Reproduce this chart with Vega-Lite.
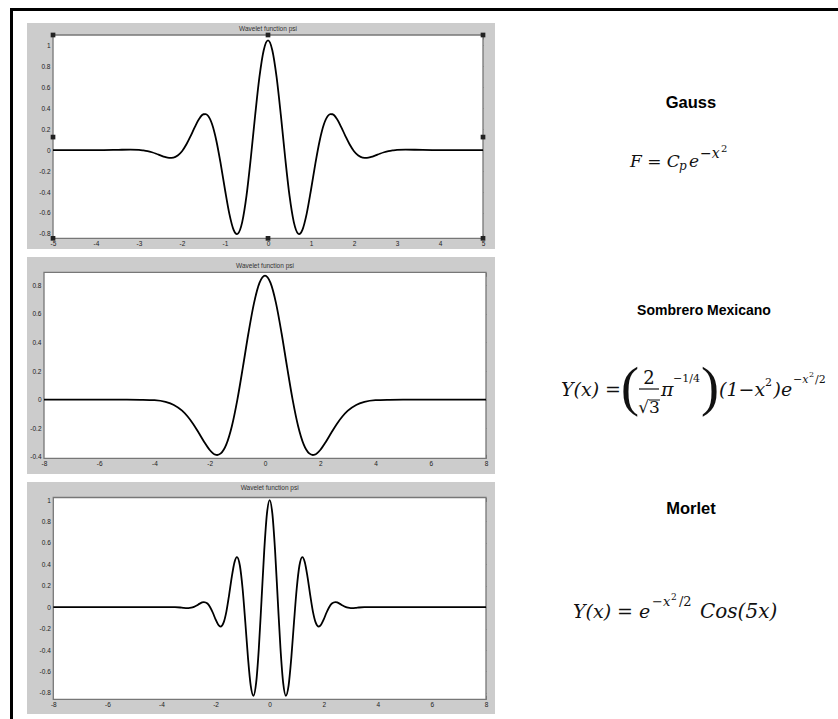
{
"$schema": "https://vega.github.io/schema/vega-lite/v6.json",
"padding": {"left": 10, "top": 8, "right": 0, "bottom": 0},
"background": "white",
"config": {"view": {"stroke": null}, "text": {"color": "#111"}},
"datasets": {
"gauss": [
{"x":-5,"psi":0},{"x":-4.5,"psi":0},{"x":-4,"psi":0},{"x":-3.6,"psi":0.002},{"x":-3.4,"psi":0.004},{"x":-3.2,"psi":0.005},{"x":-3,"psi":0.003},{"x":-2.9,"psi":-0.002},{"x":-2.8,"psi":-0.009},{"x":-2.7,"psi":-0.02},{"x":-2.6,"psi":-0.034},{"x":-2.5,"psi":-0.05},{"x":-2.4,"psi":-0.065},{"x":-2.3,"psi":-0.074},{"x":-2.2,"psi":-0.071},{"x":-2.1,"psi":-0.051},{"x":-2,"psi":-0.01},{"x":-1.9,"psi":0.054},{"x":-1.8,"psi":0.135},{"x":-1.7,"psi":0.223},{"x":-1.6,"psi":0.3},{"x":-1.5,"psi":0.343},{"x":-1.45,"psi":0.345},{"x":-1.4,"psi":0.331},{"x":-1.3,"psi":0.247},{"x":-1.2,"psi":0.088},{"x":-1.1,"psi":-0.131},{"x":-1,"psi":-0.378},{"x":-0.9,"psi":-0.606},{"x":-0.8,"psi":-0.761},{"x":-0.75,"psi":-0.796},{"x":-0.725,"psi":-0.801},{"x":-0.7,"psi":-0.797},{"x":-0.6,"psi":-0.687},{"x":-0.5,"psi":-0.435},{"x":-0.4,"psi":-0.075},{"x":-0.3,"psi":0.329},{"x":-0.2,"psi":0.697},{"x":-0.1,"psi":0.955},{"x":0,"psi":1.048},
{"x":0.1,"psi":0.955},{"x":0.2,"psi":0.697},{"x":0.3,"psi":0.329},{"x":0.4,"psi":-0.075},{"x":0.5,"psi":-0.435},{"x":0.6,"psi":-0.687},{"x":0.7,"psi":-0.797},{"x":0.725,"psi":-0.801},{"x":0.75,"psi":-0.796},{"x":0.8,"psi":-0.761},{"x":0.9,"psi":-0.606},{"x":1,"psi":-0.378},{"x":1.1,"psi":-0.131},{"x":1.2,"psi":0.088},{"x":1.3,"psi":0.247},{"x":1.4,"psi":0.331},{"x":1.45,"psi":0.345},{"x":1.5,"psi":0.343},{"x":1.6,"psi":0.3},{"x":1.7,"psi":0.223},{"x":1.8,"psi":0.135},{"x":1.9,"psi":0.054},{"x":2,"psi":-0.01},{"x":2.1,"psi":-0.051},{"x":2.2,"psi":-0.071},{"x":2.3,"psi":-0.074},{"x":2.4,"psi":-0.065},{"x":2.5,"psi":-0.05},{"x":2.6,"psi":-0.034},{"x":2.7,"psi":-0.02},{"x":2.8,"psi":-0.009},{"x":2.9,"psi":-0.002},{"x":3,"psi":0.003},{"x":3.2,"psi":0.005},{"x":3.4,"psi":0.004},{"x":3.6,"psi":0.002},{"x":4,"psi":0},{"x":4.5,"psi":0},{"x":5,"psi":0}
],
"handles": [
{"x":-5,"y":1.1},{"x":0,"y":1.1},{"x":5,"y":1.1},{"x":-5,"y":0.125},{"x":5,"y":0.125},{"x":-5,"y":-0.842},{"x":0,"y":-0.842},{"x":5,"y":-0.842}
],
"mexh": [
{"x":-8,"psi":0},{"x":-6,"psi":0},{"x":-5,"psi":0},{"x":-4.5,"psi":-0.001},{"x":-4,"psi":-0.004},{"x":-3.6,"psi":-0.016},{"x":-3.3,"psi":-0.037},{"x":-3,"psi":-0.077},{"x":-2.8,"psi":-0.118},{"x":-2.6,"psi":-0.17},{"x":-2.4,"psi":-0.232},{"x":-2.2,"psi":-0.296},{"x":-2,"psi":-0.352},{"x":-1.8,"psi":-0.385},{"x":-1.732,"psi":-0.387},{"x":-1.6,"psi":-0.376},{"x":-1.4,"psi":-0.313},{"x":-1.2,"psi":-0.186},{"x":-1,"psi":0},{"x":-0.8,"psi":0.227},{"x":-0.6,"psi":0.464},{"x":-0.4,"psi":0.673},{"x":-0.2,"psi":0.816},{"x":0,"psi":0.867},
{"x":0.2,"psi":0.816},{"x":0.4,"psi":0.673},{"x":0.6,"psi":0.464},{"x":0.8,"psi":0.227},{"x":1,"psi":0},{"x":1.2,"psi":-0.186},{"x":1.4,"psi":-0.313},{"x":1.6,"psi":-0.376},{"x":1.732,"psi":-0.387},{"x":1.8,"psi":-0.385},{"x":2,"psi":-0.352},{"x":2.2,"psi":-0.296},{"x":2.4,"psi":-0.232},{"x":2.6,"psi":-0.17},{"x":2.8,"psi":-0.118},{"x":3,"psi":-0.077},{"x":3.3,"psi":-0.037},{"x":3.6,"psi":-0.016},{"x":4,"psi":-0.004},{"x":4.5,"psi":-0.001},{"x":5,"psi":0},{"x":6,"psi":0},{"x":8,"psi":0}
],
"morl": [
{"x":-8,"psi":0},{"x":-6,"psi":0},{"x":-5,"psi":0},{"x":-4,"psi":0},{"x":-3.5,"psi":0},{"x":-3.3,"psi":-0.003},{"x":-3.2,"psi":-0.006},{"x":-3.1,"psi":-0.008},{"x":-3,"psi":-0.008},{"x":-2.9,"psi":-0.005},{"x":-2.8,"psi":0.003},{"x":-2.7,"psi":0.015},{"x":-2.6,"psi":0.031},{"x":-2.5,"psi":0.044},{"x":-2.43,"psi":0.048},{"x":-2.3,"psi":0.034},{"x":-2.2,"psi":0},{"x":-2.1,"psi":-0.052},{"x":-2,"psi":-0.114},{"x":-1.9,"psi":-0.164},{"x":-1.815,"psi":-0.181},{"x":-1.7,"psi":-0.142},{"x":-1.6,"psi":-0.041},{"x":-1.5,"psi":0.113},{"x":-1.4,"psi":0.283},{"x":-1.3,"psi":0.42},{"x":-1.21,"psi":0.468},{"x":-1.1,"psi":0.387},{"x":-1,"psi":0.172},{"x":-0.9,"psi":-0.141},{"x":-0.8,"psi":-0.475},{"x":-0.7,"psi":-0.733},{"x":-0.6,"psi":-0.827},{"x":-0.5,"psi":-0.707},{"x":-0.4,"psi":-0.384},{"x":-0.3,"psi":0.068},{"x":-0.2,"psi":0.53},{"x":-0.1,"psi":0.873},{"x":0,"psi":1},
{"x":0.1,"psi":0.873},{"x":0.2,"psi":0.53},{"x":0.3,"psi":0.068},{"x":0.4,"psi":-0.384},{"x":0.5,"psi":-0.707},{"x":0.6,"psi":-0.827},{"x":0.7,"psi":-0.733},{"x":0.8,"psi":-0.475},{"x":0.9,"psi":-0.141},{"x":1,"psi":0.172},{"x":1.1,"psi":0.387},{"x":1.21,"psi":0.468},{"x":1.3,"psi":0.42},{"x":1.4,"psi":0.283},{"x":1.5,"psi":0.113},{"x":1.6,"psi":-0.041},{"x":1.7,"psi":-0.142},{"x":1.815,"psi":-0.181},{"x":1.9,"psi":-0.164},{"x":2,"psi":-0.114},{"x":2.1,"psi":-0.052},{"x":2.2,"psi":0},{"x":2.3,"psi":0.034},{"x":2.43,"psi":0.048},{"x":2.5,"psi":0.044},{"x":2.6,"psi":0.031},{"x":2.7,"psi":0.015},{"x":2.8,"psi":0.003},{"x":2.9,"psi":-0.005},{"x":3,"psi":-0.008},{"x":3.1,"psi":-0.008},{"x":3.2,"psi":-0.006},{"x":3.3,"psi":-0.003},{"x":3.5,"psi":0},{"x":4,"psi":0},{"x":5,"psi":0},{"x":6,"psi":0},{"x":8,"psi":0}
]
},
"spacing": 0,
"vconcat": [
{"width": 828, "height": 3, "data": {"values": [{}]}, "mark": {"type": "rect", "color": "black"}},
{"spacing": 14, "hconcat": [
 {"width": 3, "height": 708, "data": {"values": [{}]}, "mark": {"type": "rect", "color": "black"}},
 {"spacing": 8, "vconcat": [
  {"width": 1, "height": 4, "data": {"values": [{}]}, "mark": {"type": "rect", "opacity": 0}},
  {"spacing": 0, "hconcat": [
   {"width": 468, "height": 226, "view": {"fill": "#cccccc", "stroke": null},
    "resolve": {"axis": {"x": "independent", "y": "independent"}},
    "layer": [
     {"data": {"values": [{}]}, "mark": {"type": "rect", "fill": "white", "stroke": "#777", "strokeWidth": 1.3},
      "encoding": {
       "x": {"datum": -5, "type": "quantitative", "scale": {"domain": [-5.605, 5.279], "nice": false, "zero": false},
        "axis": {"orient": "bottom", "values": [-5,-4,-3,-2,-1,0,1,2,3,4,5], "offset": -10.7, "domain": false, "grid": false, "tickSize": -4, "tickColor": "#777", "labelPadding": 6, "labelFontSize": 6.5, "labelColor": "#222", "labelFont": "Liberation Sans", "labelExpr": "toString(datum.value)", "labelOverlap": false, "labelFlush": false, "title": null}},
       "x2": {"datum": 5},
       "y": {"datum": -0.842, "type": "quantitative", "scale": {"domain": [-0.944, 1.2146], "nice": false, "zero": false},
        "axis": {"orient": "left", "values": [-0.8,-0.6,-0.4,-0.2,0,0.2,0.4,0.6,0.8,1], "offset": -26, "domain": false, "grid": false, "tickSize": -4, "tickColor": "#777", "labelPadding": 7, "labelFontSize": 6.5, "labelColor": "#222", "labelFont": "Liberation Sans", "labelExpr": "toString(datum.value)", "labelOverlap": false, "labelFlush": false, "title": null}},
       "y2": {"datum": 1.1}
      }},
     {"data": {"name": "gauss"}, "mark": {"type": "line", "color": "black", "strokeWidth": 1.8, "interpolate": "monotone"},
      "encoding": {
       "x": {"field": "x", "type": "quantitative", "scale": {"domain": [-5.605, 5.279], "nice": false, "zero": false},
        "axis": {"orient": "top", "values": [-5,-4,-3,-2,-1,0,1,2,3,4,5], "offset": -12, "domain": false, "grid": false, "labels": false, "tickSize": -4, "tickColor": "#777", "title": null}},
       "y": {"field": "psi", "type": "quantitative", "scale": {"domain": [-0.944, 1.2146], "nice": false, "zero": false},
        "axis": {"orient": "right", "values": [-0.8,-0.6,-0.4,-0.2,0,0.2,0.4,0.6,0.8,1], "offset": -12, "domain": false, "grid": false, "labels": false, "tickSize": -4, "tickColor": "#777", "title": null}}
      }},
     {"data": {"name": "handles"}, "mark": {"type": "point", "shape": "square", "size": 22, "filled": true, "color": "#222", "opacity": 1},
      "encoding": {"x": {"field": "x", "type": "quantitative", "axis": null}, "y": {"field": "y", "type": "quantitative", "axis": null}}},
     {"data": {"values": [{}]}, "mark": {"type": "text", "text": "Wavelet function psi", "font": "Liberation Sans", "fontSize": 6.5, "color": "#333", "baseline": "middle"},
      "encoding": {"x": {"datum": 0, "type": "quantitative", "axis": null}, "y": {"datum": 1.157, "type": "quantitative", "axis": null}}}
    ]},
   {"width": 343, "height": 226, "data": {"values": [{}]},
    "layer": [
     {"mark": {"type": "text", "text": "Gauss", "font": "Liberation Sans", "fontWeight": "bold", "fontSize": 16.5, "align": "center", "baseline": "alphabetic", "color": "#000"},
      "encoding": {"x": {"datum": 57.14, "type": "quantitative", "scale": {"domain": [0, 100]}, "axis": null}, "y": {"datum": 37.61, "type": "quantitative", "scale": {"domain": [0, 100], "reverse": true}, "axis": null}}},
     {"mark": {"type": "text", "text": "F = C", "font": "DejaVu Serif", "fontStyle": "italic", "fontSize": 17, "align": "left", "baseline": "alphabetic"},
      "encoding": {"x": {"datum": 39.36, "type": "quantitative", "scale": {"domain": [0, 100]}, "axis": null}, "y": {"datum": 63.72, "type": "quantitative", "scale": {"domain": [0, 100], "reverse": true}, "axis": null}}},
     {"mark": {"type": "text", "text": "p", "font": "DejaVu Serif", "fontStyle": "italic", "fontSize": 12, "align": "left", "baseline": "alphabetic"},
      "encoding": {"x": {"datum": 53.64, "type": "quantitative", "scale": {"domain": [0, 100]}, "axis": null}, "y": {"datum": 65.04, "type": "quantitative", "scale": {"domain": [0, 100], "reverse": true}, "axis": null}}},
     {"mark": {"type": "text", "text": "e", "font": "DejaVu Serif", "fontStyle": "italic", "fontSize": 17, "align": "left", "baseline": "alphabetic"},
      "encoding": {"x": {"datum": 56.56, "type": "quantitative", "scale": {"domain": [0, 100]}, "axis": null}, "y": {"datum": 63.72, "type": "quantitative", "scale": {"domain": [0, 100], "reverse": true}, "axis": null}}},
     {"mark": {"type": "text", "text": "−x", "font": "DejaVu Serif", "fontStyle": "italic", "fontSize": 14, "align": "left", "baseline": "alphabetic"},
      "encoding": {"x": {"datum": 59.77, "type": "quantitative", "scale": {"domain": [0, 100]}, "axis": null}, "y": {"datum": 59.73, "type": "quantitative", "scale": {"domain": [0, 100], "reverse": true}, "axis": null}}},
     {"mark": {"type": "text", "text": "2", "font": "DejaVu Serif", "fontSize": 10, "align": "left", "baseline": "alphabetic"},
      "encoding": {"x": {"datum": 65.89, "type": "quantitative", "scale": {"domain": [0, 100]}, "axis": null}, "y": {"datum": 57.08, "type": "quantitative", "scale": {"domain": [0, 100], "reverse": true}, "axis": null}}}
    ]}
  ]},
  {"spacing": 0, "hconcat": [
   {"width": 468, "height": 217, "view": {"fill": "#cccccc", "stroke": null},
    "resolve": {"axis": {"x": "independent", "y": "independent"}},
    "layer": [
     {"data": {"values": [{}]}, "mark": {"type": "rect", "fill": "white", "stroke": "#777", "strokeWidth": 1.3},
      "encoding": {
       "x": {"datum": -8, "type": "quantitative", "scale": {"domain": [-8.6154, 8.3258], "nice": false, "zero": false},
        "axis": {"orient": "bottom", "values": [-8,-6,-4,-2,0,2,4,6,8], "offset": -15.7, "domain": false, "grid": false, "tickSize": -4, "tickColor": "#777", "labelPadding": 6, "labelFontSize": 6.5, "labelColor": "#222", "labelFont": "Liberation Sans", "labelExpr": "toString(datum.value)", "labelOverlap": false, "labelFlush": false, "title": null}},
       "x2": {"datum": 8},
       "y": {"datum": -0.41, "type": "quantitative", "scale": {"domain": [-0.5197, 0.9969], "nice": false, "zero": false},
        "axis": {"orient": "left", "values": [-0.4,-0.2,0,0.2,0.4,0.6,0.8], "offset": -17, "domain": false, "grid": false, "tickSize": -4, "tickColor": "#777", "labelPadding": 7, "labelFontSize": 6.5, "labelColor": "#222", "labelFont": "Liberation Sans", "labelExpr": "toString(datum.value)", "labelOverlap": false, "labelFlush": false, "title": null}},
       "y2": {"datum": 0.89}
      }},
     {"data": {"name": "mexh"}, "mark": {"type": "line", "color": "black", "strokeWidth": 1.8, "interpolate": "monotone"},
      "encoding": {
       "x": {"field": "x", "type": "quantitative", "scale": {"domain": [-8.6154, 8.3258], "nice": false, "zero": false},
        "axis": {"orient": "top", "values": [-8,-6,-4,-2,0,2,4,6,8], "offset": -15.3, "domain": false, "grid": false, "labels": false, "tickSize": -4, "tickColor": "#777", "title": null}},
       "y": {"field": "psi", "type": "quantitative", "scale": {"domain": [-0.5197, 0.9969], "nice": false, "zero": false},
        "axis": {"orient": "right", "values": [-0.4,-0.2,0,0.2,0.4,0.6,0.8], "offset": -9, "domain": false, "grid": false, "labels": false, "tickSize": -4, "tickColor": "#777", "title": null}}
      }},
     {"data": {"values": [{}]}, "mark": {"type": "text", "text": "Wavelet function psi", "font": "Liberation Sans", "fontSize": 6.5, "color": "#333", "baseline": "middle"},
      "encoding": {"x": {"datum": 0, "type": "quantitative", "axis": null}, "y": {"datum": 0.934, "type": "quantitative", "axis": null}}}
    ]},
   {"width": 343, "height": 217, "data": {"values": [{}]},
    "layer": [
     {"mark": {"type": "text", "text": "Sombrero Mexicano", "font": "Liberation Sans Narrow, Liberation Sans, Arial, sans-serif", "fontWeight": "bold", "fontSize": 14, "align": "center", "baseline": "alphabetic", "color": "#000"},
      "encoding": {"x": {"datum": 60.93, "type": "quantitative", "scale": {"domain": [0, 100]}, "axis": null}, "y": {"datum": 26.73, "type": "quantitative", "scale": {"domain": [0, 100], "reverse": true}, "axis": null}}},
     {"mark": {"type": "text", "text": "Y(x) =", "font": "DejaVu Serif", "fontStyle": "italic", "fontSize": 19, "align": "left", "baseline": "alphabetic"},
      "encoding": {"x": {"datum": 19.24, "type": "quantitative", "scale": {"domain": [0, 100]}, "axis": null}, "y": {"datum": 64.06, "type": "quantitative", "scale": {"domain": [0, 100], "reverse": true}, "axis": null}}},
     {"mark": {"type": "text", "text": "(", "font": "Liberation Serif", "fontSize": 54, "align": "left", "baseline": "alphabetic"},
      "encoding": {"x": {"datum": 36.73, "type": "quantitative", "scale": {"domain": [0, 100]}, "axis": null}, "y": {"datum": 68.2, "type": "quantitative", "scale": {"domain": [0, 100], "reverse": true}, "axis": null}}},
     {"mark": {"type": "text", "text": "2", "font": "DejaVu Serif", "fontSize": 18, "align": "center", "baseline": "alphabetic"},
      "encoding": {"x": {"datum": 44.9, "type": "quantitative", "scale": {"domain": [0, 100]}, "axis": null}, "y": {"datum": 58.53, "type": "quantitative", "scale": {"domain": [0, 100], "reverse": true}, "axis": null}}},
     {"mark": {"type": "rule", "color": "#111", "strokeWidth": 1.2},
      "encoding": {"x": {"datum": 41.98, "type": "quantitative", "scale": {"domain": [0, 100]}, "axis": null}, "x2": {"datum": 47.81}, "y": {"datum": 60.83, "type": "quantitative", "scale": {"domain": [0, 100], "reverse": true}, "axis": null}}},
     {"mark": {"type": "text", "text": "√3", "font": "DejaVu Serif", "fontSize": 17, "align": "center", "baseline": "alphabetic"},
      "encoding": {"x": {"datum": 44.9, "type": "quantitative", "scale": {"domain": [0, 100]}, "axis": null}, "y": {"datum": 71.89, "type": "quantitative", "scale": {"domain": [0, 100], "reverse": true}, "axis": null}}},
     {"mark": {"type": "rule", "color": "#111", "strokeWidth": 1},
      "encoding": {"x": {"datum": 44.9, "type": "quantitative", "scale": {"domain": [0, 100]}, "axis": null}, "x2": {"datum": 48.1}, "y": {"datum": 65.9, "type": "quantitative", "scale": {"domain": [0, 100], "reverse": true}, "axis": null}}},
     {"mark": {"type": "text", "text": "π", "font": "DejaVu Serif", "fontStyle": "italic", "fontSize": 19, "align": "left", "baseline": "alphabetic"},
      "encoding": {"x": {"datum": 48.4, "type": "quantitative", "scale": {"domain": [0, 100]}, "axis": null}, "y": {"datum": 64.06, "type": "quantitative", "scale": {"domain": [0, 100], "reverse": true}, "axis": null}}},
     {"mark": {"type": "text", "text": "−1/4", "font": "DejaVu Serif", "fontSize": 11, "align": "left", "baseline": "alphabetic"},
      "encoding": {"x": {"datum": 51.9, "type": "quantitative", "scale": {"domain": [0, 100]}, "axis": null}, "y": {"datum": 57.6, "type": "quantitative", "scale": {"domain": [0, 100], "reverse": true}, "axis": null}}},
     {"mark": {"type": "text", "text": ")", "font": "Liberation Serif", "fontSize": 54, "align": "left", "baseline": "alphabetic"},
      "encoding": {"x": {"datum": 60.06, "type": "quantitative", "scale": {"domain": [0, 100]}, "axis": null}, "y": {"datum": 68.2, "type": "quantitative", "scale": {"domain": [0, 100], "reverse": true}, "axis": null}}},
     {"mark": {"type": "text", "text": "(1−x", "font": "DejaVu Serif", "fontStyle": "italic", "fontSize": 19, "align": "left", "baseline": "alphabetic"},
      "encoding": {"x": {"datum": 65.31, "type": "quantitative", "scale": {"domain": [0, 100]}, "axis": null}, "y": {"datum": 64.06, "type": "quantitative", "scale": {"domain": [0, 100], "reverse": true}, "axis": null}}},
     {"mark": {"type": "text", "text": "2", "font": "DejaVu Serif", "fontSize": 11, "align": "left", "baseline": "alphabetic"},
      "encoding": {"x": {"datum": 78.72, "type": "quantitative", "scale": {"domain": [0, 100]}, "axis": null}, "y": {"datum": 59.45, "type": "quantitative", "scale": {"domain": [0, 100], "reverse": true}, "axis": null}}},
     {"mark": {"type": "text", "text": ")e", "font": "DejaVu Serif", "fontStyle": "italic", "fontSize": 19, "align": "left", "baseline": "alphabetic"},
      "encoding": {"x": {"datum": 81.2, "type": "quantitative", "scale": {"domain": [0, 100]}, "axis": null}, "y": {"datum": 64.06, "type": "quantitative", "scale": {"domain": [0, 100], "reverse": true}, "axis": null}}},
     {"mark": {"type": "text", "text": "−x", "font": "DejaVu Serif", "fontStyle": "italic", "fontSize": 11, "align": "left", "baseline": "alphabetic"},
      "encoding": {"x": {"datum": 86.88, "type": "quantitative", "scale": {"domain": [0, 100]}, "axis": null}, "y": {"datum": 58.06, "type": "quantitative", "scale": {"domain": [0, 100], "reverse": true}, "axis": null}}},
     {"mark": {"type": "text", "text": "2", "font": "DejaVu Serif", "fontSize": 8, "align": "left", "baseline": "alphabetic"},
      "encoding": {"x": {"datum": 91.55, "type": "quantitative", "scale": {"domain": [0, 100]}, "axis": null}, "y": {"datum": 55.3, "type": "quantitative", "scale": {"domain": [0, 100], "reverse": true}, "axis": null}}},
     {"mark": {"type": "text", "text": "/2", "font": "DejaVu Serif", "fontSize": 11, "align": "left", "baseline": "alphabetic"},
      "encoding": {"x": {"datum": 93.29, "type": "quantitative", "scale": {"domain": [0, 100]}, "axis": null}, "y": {"datum": 58.06, "type": "quantitative", "scale": {"domain": [0, 100], "reverse": true}, "axis": null}}}
    ]}
  ]},
  {"spacing": 0, "hconcat": [
   {"width": 468, "height": 232, "view": {"fill": "#cccccc", "stroke": null},
    "resolve": {"axis": {"x": "independent", "y": "independent"}},
    "layer": [
     {"data": {"values": [{}]}, "mark": {"type": "rect", "fill": "white", "stroke": "#777", "strokeWidth": 1.3},
      "encoding": {
       "x": {"datum": -8, "type": "quantitative", "scale": {"domain": [-8.9726, 8.3328], "nice": false, "zero": false},
        "axis": {"orient": "bottom", "values": [-8,-6,-4,-2,0,2,4,6,8], "offset": -14.7, "domain": false, "grid": false, "tickSize": -4, "tickColor": "#777", "labelPadding": 6, "labelFontSize": 6.5, "labelColor": "#222", "labelFont": "Liberation Sans", "labelExpr": "toString(datum.value)", "labelOverlap": false, "labelFlush": false, "title": null}},
       "x2": {"datum": 8},
       "y": {"datum": -0.86, "type": "quantitative", "scale": {"domain": [-0.9972, 1.1687], "nice": false, "zero": false},
        "axis": {"orient": "left", "values": [-0.8,-0.6,-0.4,-0.2,0,0.2,0.4,0.6,0.8,1], "offset": -26.3, "domain": false, "grid": false, "tickSize": -4, "tickColor": "#777", "labelPadding": 7, "labelFontSize": 6.5, "labelColor": "#222", "labelFont": "Liberation Sans", "labelExpr": "toString(datum.value)", "labelOverlap": false, "labelFlush": false, "title": null}},
       "y2": {"datum": 1.024}
      }},
     {"data": {"name": "morl"}, "mark": {"type": "line", "color": "black", "strokeWidth": 1.8, "interpolate": "monotone"},
      "encoding": {
       "x": {"field": "x", "type": "quantitative", "scale": {"domain": [-8.9726, 8.3328], "nice": false, "zero": false},
        "axis": {"orient": "top", "values": [-8,-6,-4,-2,0,2,4,6,8], "offset": -15.5, "domain": false, "grid": false, "labels": false, "tickSize": -4, "tickColor": "#777", "title": null}},
       "y": {"field": "psi", "type": "quantitative", "scale": {"domain": [-0.9972, 1.1687], "nice": false, "zero": false},
        "axis": {"orient": "right", "values": [-0.8,-0.6,-0.4,-0.2,0,0.2,0.4,0.6,0.8,1], "offset": -9, "domain": false, "grid": false, "labels": false, "tickSize": -4, "tickColor": "#777", "title": null}}
      }},
     {"data": {"values": [{}]}, "mark": {"type": "text", "text": "Wavelet function psi", "font": "Liberation Sans", "fontSize": 6.5, "color": "#333", "baseline": "middle"},
      "encoding": {"x": {"datum": 0, "type": "quantitative", "axis": null}, "y": {"datum": 1.114, "type": "quantitative", "axis": null}}}
    ]},
   {"width": 343, "height": 232, "data": {"values": [{}]},
    "layer": [
     {"mark": {"type": "text", "text": "Morlet", "font": "Liberation Sans", "fontWeight": "bold", "fontSize": 16.5, "align": "center", "baseline": "alphabetic", "color": "#000"},
      "encoding": {"x": {"datum": 57.14, "type": "quantitative", "scale": {"domain": [0, 100]}, "axis": null}, "y": {"datum": 13.79, "type": "quantitative", "scale": {"domain": [0, 100], "reverse": true}, "axis": null}}},
     {"mark": {"type": "text", "text": "Y(x) = e", "font": "DejaVu Serif", "fontStyle": "italic", "fontSize": 19, "align": "left", "baseline": "alphabetic"},
      "encoding": {"x": {"datum": 22.74, "type": "quantitative", "scale": {"domain": [0, 100]}, "axis": null}, "y": {"datum": 58.62, "type": "quantitative", "scale": {"domain": [0, 100], "reverse": true}, "axis": null}}},
     {"mark": {"type": "text", "text": "−x", "font": "DejaVu Serif", "fontStyle": "italic", "fontSize": 13, "align": "left", "baseline": "alphabetic"},
      "encoding": {"x": {"datum": 45.77, "type": "quantitative", "scale": {"domain": [0, 100]}, "axis": null}, "y": {"datum": 53.45, "type": "quantitative", "scale": {"domain": [0, 100], "reverse": true}, "axis": null}}},
     {"mark": {"type": "text", "text": "2", "font": "DejaVu Serif", "fontSize": 9, "align": "left", "baseline": "alphabetic"},
      "encoding": {"x": {"datum": 51.31, "type": "quantitative", "scale": {"domain": [0, 100]}, "axis": null}, "y": {"datum": 50.86, "type": "quantitative", "scale": {"domain": [0, 100], "reverse": true}, "axis": null}}},
     {"mark": {"type": "text", "text": "/2", "font": "DejaVu Serif", "fontSize": 13, "align": "left", "baseline": "alphabetic"},
      "encoding": {"x": {"datum": 53.64, "type": "quantitative", "scale": {"domain": [0, 100]}, "axis": null}, "y": {"datum": 53.45, "type": "quantitative", "scale": {"domain": [0, 100], "reverse": true}, "axis": null}}},
     {"mark": {"type": "text", "text": "Cos(5x)", "font": "DejaVu Serif", "fontStyle": "italic", "fontSize": 20, "align": "left", "baseline": "alphabetic"},
      "encoding": {"x": {"datum": 59.77, "type": "quantitative", "scale": {"domain": [0, 100]}, "axis": null}, "y": {"datum": 58.62, "type": "quantitative", "scale": {"domain": [0, 100], "reverse": true}, "axis": null}}}
    ]}
  ]}
 ]}
]}
]
}
